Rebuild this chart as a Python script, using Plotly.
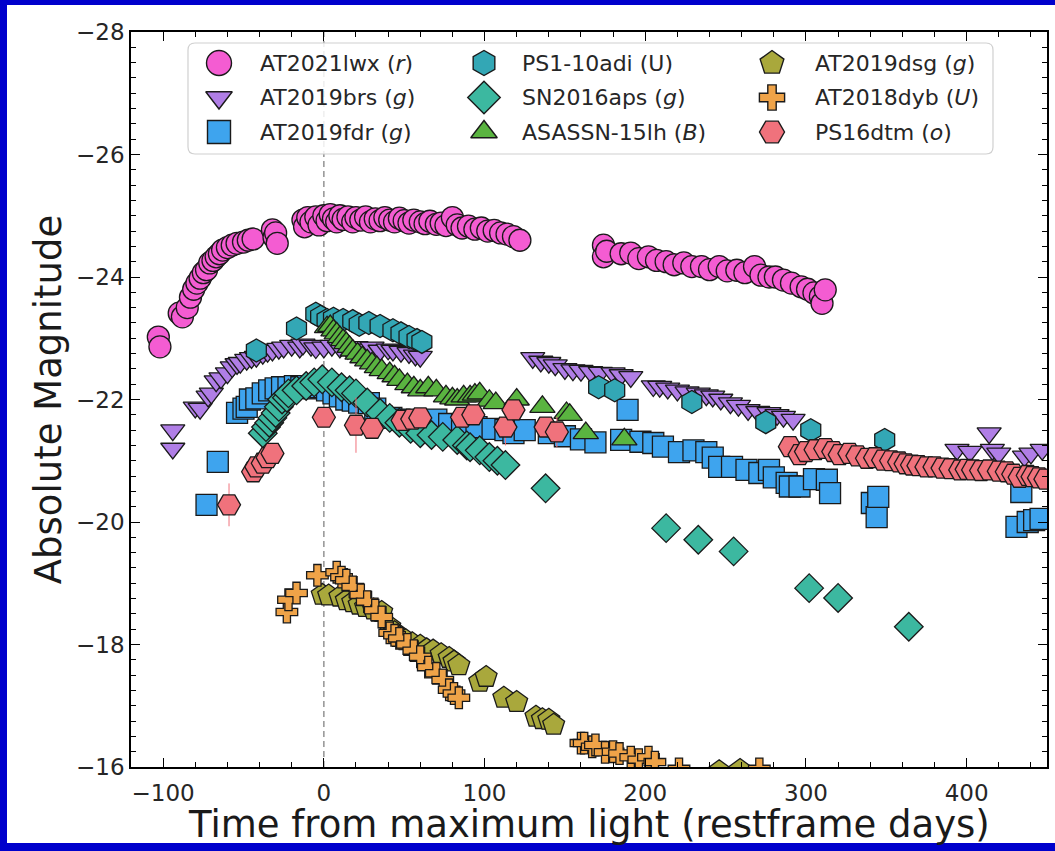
import plotly.graph_objects as go

# ---------------- data (restframe days, absolute magnitude) ----------------
lwx_t = [-103, -102, -90, -88, -85, -83, -81, -79, -77, -75, -73, -71, -69, -67, -65, -63, -60, -57, -54, -50,
         -47, -44, -32, -31, -30, -29, -13, -12, -10, -8, -5, -3, 0, 2, 4, 6, 8, 10, 12, 15,
         18, 20, 23, 26, 29, 32, 35, 38, 41, 44, 47, 50, 53, 56, 60, 63, 66, 70, 73, 76,
         80, 83, 86, 90, 94, 98, 102, 106, 110, 114, 118, 122, 174, 174, 176, 185, 191, 196, 202, 207,
         213, 218, 224, 229, 235, 240, 246, 251, 257, 262, 268, 272, 277, 281, 286, 291, 297, 301, 305, 309,
         310, 312]
lwx_m = [-23.02, -22.86, -23.41, -23.35, -23.5, -23.67, -23.8, -23.9, -23.98, -24.07, -24.12, -24.23, -24.27, -24.33, -24.38, -24.44, -24.48, -24.52, -24.55, -24.57,
         -24.6, -24.62, -24.77, -24.65, -24.72, -24.55, -24.93, -24.82, -24.97, -24.9, -24.98, -24.85, -25.0, -24.92, -25.02, -24.95, -24.9, -25.0, -24.94, -24.98,
         -24.9, -24.97, -24.93, -24.98, -24.9, -24.95, -24.92, -24.97, -24.93, -24.9, -24.96, -24.92, -24.88, -24.93, -24.9, -24.87, -24.91, -24.86, -24.88, -24.84,
         -24.97, -24.85, -24.8, -24.83, -24.78, -24.8, -24.75, -24.76, -24.72, -24.7, -24.66, -24.6, -24.52, -24.33, -24.42, -24.38, -24.39, -24.3, -24.33, -24.27,
         -24.25, -24.2, -24.23, -24.17, -24.17, -24.12, -24.17, -24.1, -24.11, -24.07, -24.17, -24.03, -24.0, -24.0, -23.95, -23.9, -23.84, -23.8, -23.74, -23.68,
         -23.57, -23.79]

brs_t = [-94, -94, -80, -77, -72, -70, -67, -64, -60, -57, -54, -52, -48, -45, -42, -38, -35, -32, -28, -25,
         -20, -15, -13, -8, -5, 0, 5, 10, 15, 20, 25, 30, 35, 40, 43, 48, 53, 57, 60,
         130, 135, 140, 144, 150, 155, 160, 166, 172, 180, 185, 191, 205, 209, 214, 220, 226, 233, 238, 242,
         247, 253, 258, 264, 270, 277, 282, 286, 292, 394, 402, 414, 416, 420, 436, 440, 447]
brs_m = [-21.5, -21.2, -21.87, -21.85, -22.05, -22.1, -22.3, -22.35, -22.43, -22.53, -22.58, -22.6, -22.65, -22.68, -22.7, -22.75, -22.78, -22.8, -22.83, -22.85,
         -22.88, -22.85, -22.9, -22.88, -22.84, -22.85, -22.88, -22.85, -22.83, -22.86, -22.82, -22.85, -22.8, -22.82, -22.8, -22.78, -22.76, -22.72, -22.7,
         -22.68, -22.62, -22.6, -22.56, -22.5, -22.48, -22.47, -22.45, -22.44, -22.43, -22.4, -22.37, -22.22, -22.21, -22.18, -22.15, -22.12, -22.1, -22.07, -22.05,
         -22.0, -21.94, -21.9, -21.83, -21.8, -21.78, -21.75, -21.72, -21.67, -21.18, -21.15, -21.45, -21.18, -21.12, -21.07, -21.12, -21.18]

fdr_t = [-73, -66, -54, -50, -48, -46, -42, -38, -34, -30, -26, -22, -18, -14, -10, -6, -2, 2, 6, 10,
         14, 18, 22, 28, 32, 36, 42, 47, 55, 62, 70, 78, 86, 95, 105, 113, 118, 125, 140, 150,
         160, 169, 185, 189, 197, 205, 211, 221, 230, 238, 242, 246, 254, 263, 271, 277, 280, 288, 290, 296,
         305, 313, 315, 341, 344, 345, 431, 434, 438, 442, 446]
fdr_m = [-20.28, -20.98, -21.78, -21.85, -21.88, -22.0, -22.02, -22.1, -22.15, -22.18, -22.2, -22.2, -22.22, -22.2, -22.22, -22.18, -22.2, -22.15, -22.1, -22.05,
         -22.0, -21.98, -21.95, -21.94, -21.85, -21.72, -21.7, -21.67, -21.66, -21.65, -21.67, -21.6, -21.58, -21.55, -21.52, -21.5, -21.45, -21.5, -21.45, -21.4,
         -21.35, -21.3, -21.34, -21.83, -21.31, -21.29, -21.23, -21.14, -21.17, -21.14, -21.05, -20.9, -20.9, -20.85, -20.8, -20.85, -20.73, -20.64, -20.58, -20.58,
         -20.7, -20.69, -20.47, -20.31, -20.08, -20.41, -19.92, -20.49, -20.0, -20.03, -20.05]

adi_t = [-42, -17, -5, -2, 2, 6, 12, 18, 22, 28, 35, 43, 48, 53, 58, 61, 171, 181, 229, 275, 303, 349]
adi_m = [-22.8, -23.16, -23.4, -23.35, -23.3, -23.32, -23.3, -23.28, -23.22, -23.25, -23.2, -23.13, -23.08, -23.02, -22.97, -22.94,
         -22.2, -22.15, -21.96, -21.63, -21.5, -21.34]

aps_t = [-38, -36, -34, -32, -30, -28, -26, -23, -22, -17, -11, -6, -1, 5, 11, 16, 20, 27, 35, 41,
         47, 54, 60, 67, 74, 83, 89, 91, 97, 103, 108, 113, 138, 213, 233, 255, 302, 320, 364]
aps_m = [-21.45, -21.55, -21.62, -21.7, -21.78, -21.88, -22.0, -22.03, -22.1, -22.15, -22.22, -22.28, -22.33, -22.28, -22.2, -22.15, -22.1, -21.95, -21.78, -21.7,
         -21.62, -21.52, -21.45, -21.42, -21.39, -21.34, -21.25, -21.22, -21.17, -21.06, -21.0, -20.93, -20.55, -19.9, -19.71, -19.52, -18.92, -18.76, -18.29]

lh_t = [2, 4, 6, 8, 10, 12, 14, 16, 18, 21, 24, 27, 30, 33, 36, 41, 44, 47, 52, 56,
        60, 65, 70, 76, 80, 83, 87, 91, 94, 97, 103, 107, 120, 136, 151, 153, 163, 187]
lh_m = [-23.18, -23.2, -23.13, -23.08, -23.02, -22.97, -22.92, -22.86, -22.8, -22.75, -22.69, -22.64, -22.59, -22.53, -22.48, -22.43, -22.38, -22.32, -22.25, -22.2,
        -22.15, -22.2, -22.15, -22.05, -22.02, -22.0, -22.05, -22.05, -22.08, -22.1, -21.98, -21.94, -22.0, -21.88, -21.78, -21.75, -21.45, -21.35]

dsg_t = [-1, 3, 10, 14, 18, 22, 26, 31, 36, 41, 44, 47, 51, 55, 60, 64, 68, 73, 78, 81,
         84, 97, 101, 112, 120, 132, 136, 140, 143, 246, 259]
dsg_m = [-18.81, -18.8, -18.78, -18.72, -18.69, -18.65, -18.61, -18.57, -18.53, -18.29, -18.2, -18.12, -18.07, -18.02, -17.98, -17.92, -17.9, -17.84, -17.78, -17.72,
         -17.66, -17.39, -17.47, -17.13, -17.06, -16.82, -16.78, -16.77, -16.69, -15.93, -15.95]

dyb_t = [-23, -22, -17, -4, 8, 11, 14, 18, 23, 27, 32, 36, 41, 44, 47, 52, 56, 60, 65, 70,
         74, 78, 81, 84, 160, 162, 167, 169, 175, 180, 184, 191, 196, 202, 206, 221, 271]
dyb_m = [-18.53, -18.73, -18.84, -19.13, -19.18, -19.1, -19.05, -18.94, -18.81, -18.7, -18.56, -18.45, -18.19, -18.15, -18.1, -18.0, -17.9, -17.8, -17.63, -17.53,
         -17.42, -17.26, -17.2, -17.13, -16.39, -16.39, -16.33, -16.36, -16.24, -16.25, -16.22, -16.16, -16.12, -16.16, -16.08, -15.97, -15.97]

dtm_t = [-59, -44, -42, -38, -35, -32, 0, 20, 30, 49, 55, 60, 86, 93, 113, 118, 138, 145,
         290, 296, 300, 306, 312, 317, 321, 327, 332, 338, 343, 348, 353, 358, 362, 366, 370, 375, 380, 385,
         390, 396, 400, 404, 409, 414, 420, 425, 429, 433, 438, 441, 445, 449]
dtm_m = [-20.28, -20.82, -20.9, -20.96, -21.05, -21.12, -21.71, -21.58, -21.53, -21.66, -21.68, -21.7, -21.71, -21.75, -21.55, -21.83, -21.55, -21.47,
         -21.23, -21.1, -21.15, -21.18, -21.2, -21.15, -21.1, -21.12, -21.08, -21.04, -21.05, -21.01, -21.0, -20.98, -20.95, -20.93, -20.92, -20.9, -20.9, -20.88,
         -20.87, -20.85, -20.86, -20.85, -20.84, -20.85, -20.83, -20.82, -20.78, -20.73, -20.76, -20.74, -20.72, -20.7]
dtm_err = [0.35, 0.1, 0.08, 0.08, 0.08, 0.1, 0.05, 0.45, 0.1, 0.06, 0.05, 0.05, 0.06, 0.1, 0.3, 0.1, 0.1, 0.25,
           0.1, 0.08, 0.08, 0.08, 0.08, 0.08, 0.08, 0.08, 0.08, 0.08, 0.08, 0.08, 0.08, 0.08, 0.08, 0.08, 0.08, 0.08, 0.08, 0.08,
           0.08, 0.08, 0.08, 0.08, 0.08, 0.08, 0.08, 0.08, 0.08, 0.08, 0.2, 0.08, 0.08, 0.08]

labels = ["AT2021lwx (<i>r</i>)", "AT2019brs (<i>g</i>)", "AT2019fdr (<i>g</i>)",
          "PS1-10adi (U)", "SN2016aps (<i>g</i>)", "ASASSN-15lh (<i>B</i>)",
          "AT2019dsg (<i>g</i>)", "AT2018dyb (<i>U</i>)", "PS16dtm (<i>o</i>)"]

x_ticks = [-100, 0, 100, 200, 300, 400]
y_ticks = [-28, -26, -24, -22, -20, -18, -16]
x_title = "Time from maximum light (restframe days)"
y_title = "Absolute Magnitude"

# ---------------- styling ----------------
FONT = "DejaVu Sans"
EDGE = "#1a1a1a"
BLUE = "#0000CC"
series = [
    (lwx_t, lwx_m, None, "circle", "#F45CD2", 22, 25),
    (brs_t, brs_m, None, "triangle-down", "#B07EE6", 21, 23),
    (fdr_t, fdr_m, None, "square", "#3EA4EE", 21, 23),
    (adi_t, adi_m, None, "hexagon", "#33A7B5", 23, 25),
    (aps_t, aps_m, None, "diamond", "#3CB8A0", 22, 25),
    (lh_t, lh_m, None, "triangle-up", "#5AB440", 22, 23),
    (dsg_t, dsg_m, None, "pentagon", "#A9A83C", 23, 25),
    (dyb_t, dyb_m, None, "cross", "#EFA348", 18, 21),
    (dtm_t, dtm_m, dtm_err, "hexagon2", "#F0727C", 23, 25),
]

fig = go.Figure()
for (t, m, err, sym, col, sz, lsz), name in zip(series, labels):
    kw = {}
    if err is not None:
        kw["error_y"] = dict(type="data", array=err, visible=True, thickness=1, width=0, color=col)
    fig.add_trace(go.Scatter(
        x=t, y=m, mode="markers", name=name, showlegend=False,
        marker=dict(symbol=sym, size=sz, color=col, line=dict(color=EDGE, width=1.3)),
        **kw))

# ---------------- manual legend on a pixel-coordinate overlay ----------------
PX_L, PX_R, PX_T, PX_B = 131, 1047, 32, 767
pxx = lambda p: (p - PX_L) / (PX_R - PX_L)
pxy = lambda p: (PX_B - p) / (PX_B - PX_T)
col_marker_x = [219, 484, 772]
col_text_x = [258, 520, 813]
row_y = [63, 97.5, 132]
for i, ((t, m, err, sym, col, sz, lsz), name) in enumerate(zip(series, labels)):
    c, r = divmod(i, 3)
    fig.add_trace(go.Scatter(
        x=[col_marker_x[c]], y=[row_y[r]], xaxis="x2", yaxis="y2", mode="markers",
        showlegend=False, hoverinfo="skip",
        marker=dict(symbol=sym, size=lsz, color=col, line=dict(color=EDGE, width=1.4))))
    fig.add_annotation(x=col_text_x[c], y=row_y[r], xref="x2", yref="y2", text=name,
                       showarrow=False, xanchor="left", yanchor="middle",
                       font=dict(family=FONT, size=22, color="#262626"))

# x-axis title (paper coordinates, below the tick labels)
fig.add_annotation(x=0.5, y=pxy(825), xref="paper", yref="paper", text=x_title,
                   showarrow=False, xanchor="center", yanchor="middle",
                   font=dict(family=FONT, size=37, color="#1a1a1a"))

# rounded legend frame (pixel coordinates)
bx0, bx1, by0, by1, rr = 188, 993, 43, 154, 7
frame = (f"M {bx0+rr},{by0} L {bx1-rr},{by0} Q {bx1},{by0} {bx1},{by0+rr} "
         f"L {bx1},{by1-rr} Q {bx1},{by1} {bx1-rr},{by1} L {bx0+rr},{by1} "
         f"Q {bx0},{by1} {bx0},{by1-rr} L {bx0},{by0+rr} Q {bx0},{by0} {bx0+rr},{by0} Z")

W, H = 1055, 851
blue_strip = lambda x0, x1, y0, y1: dict(type="rect", xref="paper", yref="paper",
                                         x0=pxx(x0), x1=pxx(x1), y0=pxy(y1), y1=pxy(y0),
                                         fillcolor=BLUE, line=dict(width=0), layer="below")

fig.update_layout(
    width=W, height=H,
    margin=dict(l=PX_L, r=W - PX_R, t=PX_T, b=H - PX_B, pad=0),
    paper_bgcolor="white", plot_bgcolor="white",
    font=dict(family=FONT, color="#262626"),
    showlegend=False,
    shapes=[
        blue_strip(-20, W + 20, -20, 5),      # top band of the frame
        blue_strip(-20, 7, -20, H + 20),      # left band
        blue_strip(-20, W + 20, 843, H + 20), # bottom band
        dict(type="line", xref="x", yref="y", x0=0, x1=0, y0=-16, y1=-28,
             line=dict(color="#9a9a9a", width=1.6, dash="6px,4px"), layer="below"),
        dict(type="path", xref="x2", yref="y2", path=frame,
             fillcolor="rgba(255,255,255,0.85)", line=dict(color="#d0d0d0", width=1.2), layer="below"),
    ],
    xaxis=dict(
        range=[-120, 450], tickvals=x_ticks, ticktext=[str(v).replace("-", "\u2212") for v in x_ticks],
        ticks="inside", ticklen=9, tickwidth=1.3, tickcolor="black",
        minor=dict(dtick=20, tick0=0, ticks="inside", ticklen=5, tickwidth=1.1, tickcolor="black"),
        showline=True, linecolor="black", linewidth=1.6, mirror="allticks",
        showgrid=False, zeroline=False, automargin=False,
        tickfont=dict(size=23, family=FONT, color="#262626"), ticklabelstandoff=5,
    ),
    yaxis=dict(
        range=[-16, -28], tickvals=y_ticks, ticktext=[str(v).replace("-", "\u2212") for v in y_ticks],
        ticks="inside", ticklen=9, tickwidth=1.3, tickcolor="black",
        minor=dict(dtick=0.25, tick0=0, ticks="inside", ticklen=5, tickwidth=1.1, tickcolor="black"),
        showline=True, linecolor="black", linewidth=1.6, mirror="allticks",
        showgrid=False, zeroline=False, automargin=False,
        tickfont=dict(size=23, family=FONT, color="#262626"), ticklabelstandoff=0,
        title=dict(text=y_title, font=dict(size=37, family=FONT, color="#1a1a1a"), standoff=3),
    ),
    xaxis2=dict(overlaying="x", range=[PX_L, PX_R], visible=False, fixedrange=True),
    yaxis2=dict(overlaying="y", range=[PX_B, PX_T], visible=False, fixedrange=True),
)

# the page body has a default 8px margin; remove it so the 1055x851 figure fills the window
fig.write_html("out.html", config={"displayModeBar": False},
               post_script="document.body.style.margin='0px';document.body.style.overflow='hidden';")
